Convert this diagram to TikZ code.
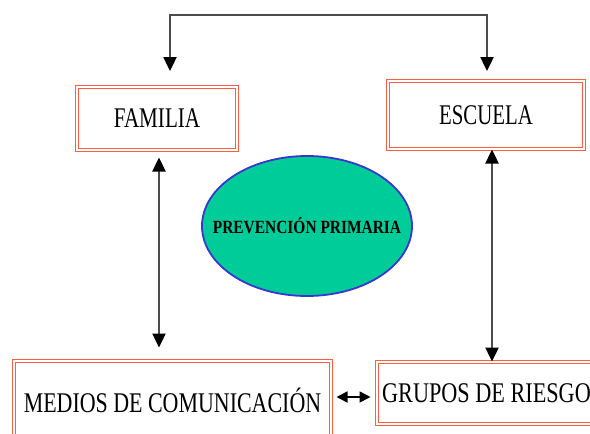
\documentclass[tikz,border=0pt]{standalone}
\usepackage{fontspec}
\setmainfont{Liberation Serif}
\usetikzlibrary{arrows.meta,shapes.geometric}
\definecolor{boxred}{RGB}{255,95,65}
\definecolor{ovalfill}{RGB}{0,204,153}
\definecolor{ovalline}{RGB}{55,55,205}
\tikzset{
  box/.style={draw=boxred, double=white, line width=1pt, double distance=1.2pt,
    inner sep=0pt, align=center, font=\fontsize{28.5}{30}\selectfont},
  conn/.style={line width=2.4pt, draw=black!70,
    {Triangle[width=13pt,length=14pt,color=black]}-{Triangle[width=13pt,length=14pt,color=black]}},
  smallconn/.style={line width=1.6pt, draw=black,
    {Triangle[width=11pt,length=11pt,color=black]}-{Triangle[width=11pt,length=11pt,color=black]}},
}
\begin{document}
\begin{tikzpicture}[x=1pt,y=-1pt]
\useasboundingbox (0,0) rectangle (590,434);
\clip (0,0) rectangle (590,434);
\node[box, minimum width=160pt, minimum height=63pt] (fam) at (157,118.5)
  {\scalebox{0.74}[1]{FAMILIA}};
\node[box, minimum width=196pt, minimum height=68pt] (esc) at (486,115)
  {\scalebox{0.73}[1]{ESCUELA}};
\node[box, minimum width=219pt, minimum height=62pt] (grp) at (486.5,393)
  {\scalebox{0.78}[1]{GRUPOS DE RIESGO}};
\node[box, minimum width=317pt, minimum height=78pt] (med) at (172.5,400)
  {\scalebox{0.77}[1]{MEDIOS DE COMUNICACIÓN}};
\node[ellipse, draw=ovalline, line width=1.8pt, fill=ovalfill, minimum width=210pt,
  minimum height=140pt, inner sep=0pt] (prev) at (307,226) {};
\node[inner sep=0pt, font=\bfseries\fontsize{18.6}{20}\selectfont] (prevtext) at (prev.center)
  {\scalebox{0.83}[1]{PREVENCIÓN PRIMARIA}};
% top connector
\coordinate (tl) at (170,71);
\coordinate (tr) at (487,71);
\coordinate (topmid) at (328,15);
\draw[conn] (tl) |- (topmid) -| (tr);
% vertical connectors
\draw[conn, shorten <=7pt, shorten >=13pt] ([xshift=2pt]fam.south) -- ([xshift=2pt]fam.south |- med.north);
\draw[conn] ([xshift=6pt]esc.south) -- ([xshift=6pt]esc.south |- grp.north);
% horizontal connector
\draw[smallconn, shorten <=5pt, shorten >=6pt] ([yshift=-4pt]grp.west -| med.east) -- ([yshift=-4pt]grp.west);
\end{tikzpicture}
\end{document}
